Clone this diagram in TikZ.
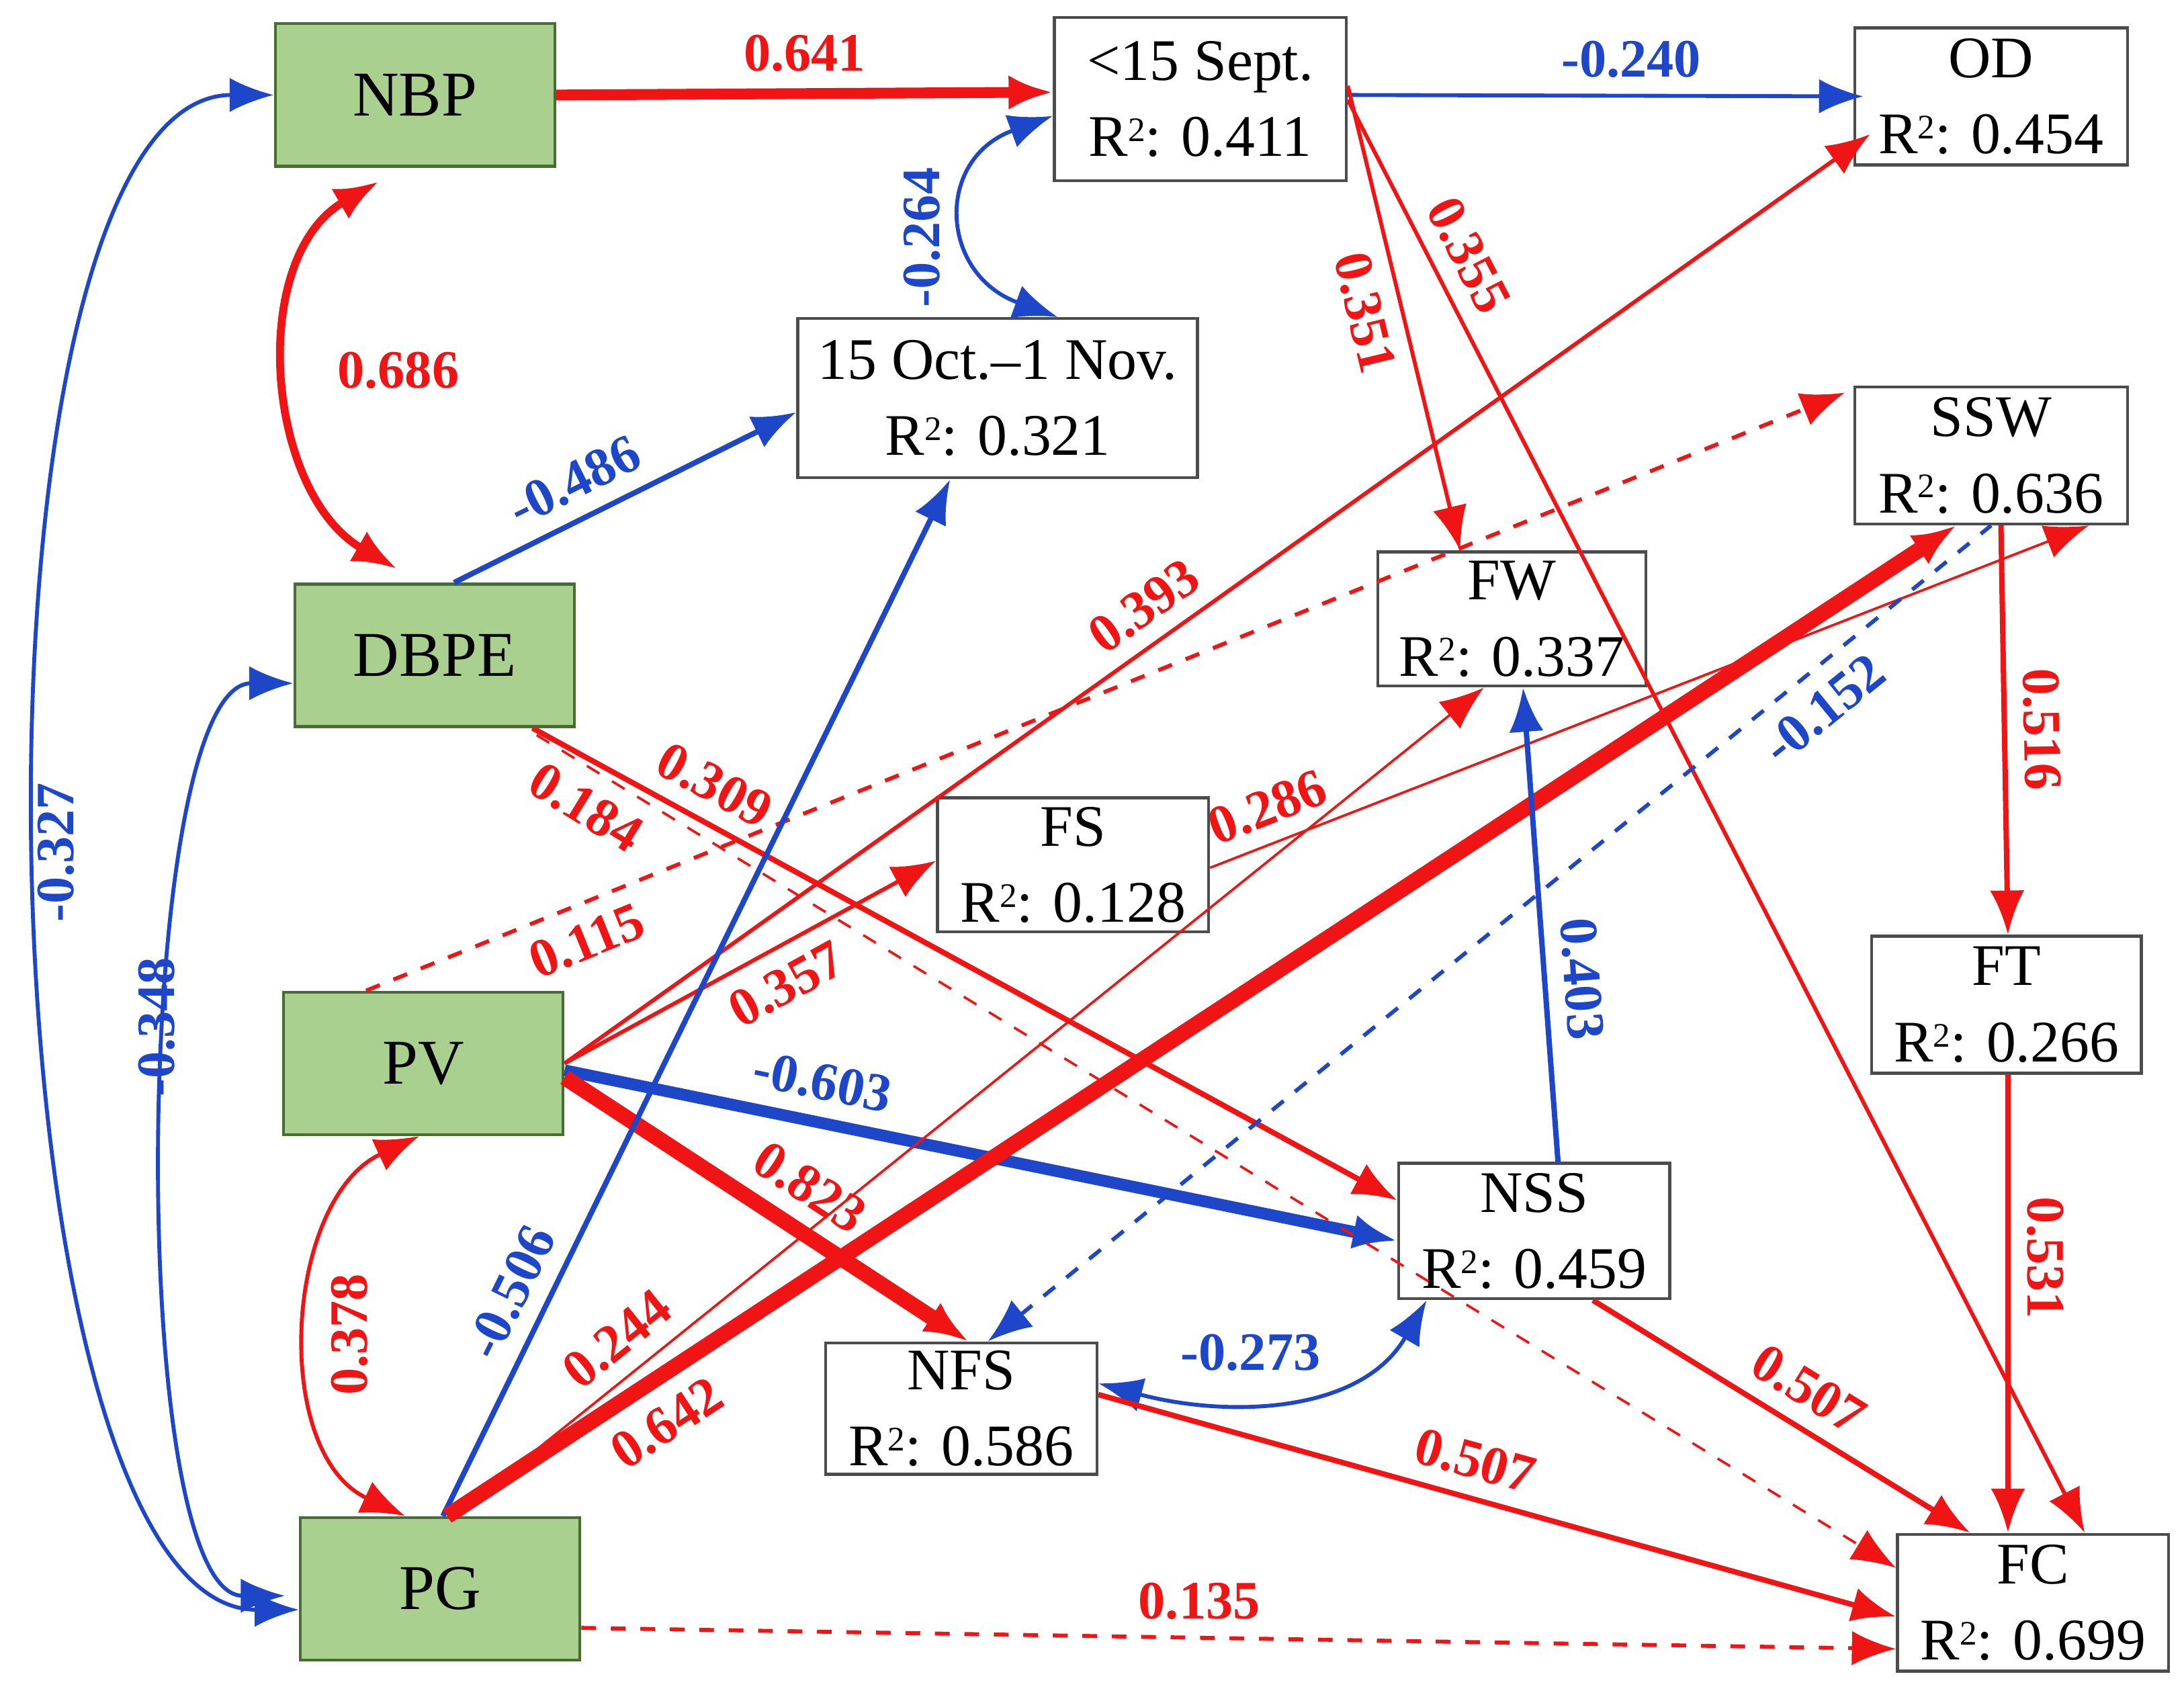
\documentclass[tikz,border=0pt]{standalone}
\usepackage{fontspec}
\setmainfont{Liberation Serif}
\usetikzlibrary{arrows.meta}
\definecolor{pred}{RGB}{240,20,20}
\definecolor{pblue}{RGB}{30,70,200}
\definecolor{pgreen}{RGB}{169,208,142}
\definecolor{pdgreen}{RGB}{70,110,50}
\newcommand{\Rsq}{R\raisebox{0.55ex}{\fontsize{7}{8}\selectfont 2}}
\begin{document}
\begin{tikzpicture}[>={Latex[length=9pt,width=7pt]},
  obs/.style={draw=black!70, fill=white, line width=0.6pt, align=center, font=\fontsize{12}{15.5}\selectfont, inner sep=1pt},
  lat/.style={draw=pdgreen, fill=pgreen, line width=0.6pt, font=\fontsize{13}{16}\selectfont},
  posarr/.style={draw=pred, line width=0.8pt, ->},
  neg/.style={draw=pblue, line width=0.8pt, ->},
  lr/.style={text=pred, font=\bfseries\fontsize{11}{13}\selectfont},
  lb/.style={text=pblue, font=\bfseries\fontsize{11}{13}\selectfont}]
\useasboundingbox (0,0) rectangle (15.63,12.13);
% Nodos
\node [lat, minimum width=2.0cm, minimum height=1.02cm] (NBP)  at (2.97,11.45) {NBP};
\node [lat, minimum width=2.0cm, minimum height=1.02cm] (DBPE) at (3.11,7.44) {DBPE};
\node [lat, minimum width=2.0cm, minimum height=1.02cm] (PV)   at (3.03,4.52) {PV};
\node [lat, minimum width=2.0cm, minimum height=1.02cm] (PG)   at (3.15,0.76) {PG};
\node [obs, minimum width=2.09cm, minimum height=1.17cm] (Sept) at (8.59,11.42) {<15 Sept.\\\Rsq: 0.411};
\node [obs, minimum width=2.86cm, minimum height=1.14cm] (Oct)  at (7.14,9.28) {15 Oct.–1 Nov.\\\Rsq: 0.321};
\node [obs, minimum width=1.95cm, minimum height=0.98cm] (OD)   at (14.25,11.44) {OD\\\Rsq: 0.454};
\node [obs, minimum width=1.95cm, minimum height=0.98cm] (SSW)  at (14.25,8.87) {SSW\\\Rsq: 0.636};
\node [obs, minimum width=1.92cm, minimum height=0.96cm] (FW)   at (10.82,7.70) {FW\\\Rsq: 0.337};
\node [obs, minimum width=1.94cm, minimum height=0.96cm] (FS)   at (7.68,5.94) {FS\\\Rsq: 0.128};
\node [obs, minimum width=1.93cm, minimum height=0.98cm] (FT)   at (14.36,4.94) {FT\\\Rsq: 0.266};
\node [obs, minimum width=1.94cm, minimum height=0.97cm] (NSS)  at (10.98,3.32) {NSS\\\Rsq: 0.459};
\node [obs, minimum width=1.94cm, minimum height=0.94cm] (NFS)  at (6.88,2.05) {NFS\\\Rsq: 0.586};
\node [obs, minimum width=1.94cm, minimum height=0.98cm] (FC)   at (14.55,0.66) {FC\\\Rsq: 0.699};
% Covarianzas
\draw [pred, line width=1.6pt, <->] ([xshift=0.75cm, yshift=-0.1cm]NBP.south west) to [out=210, in=150] ([xshift=0.74cm, yshift=0.1cm]DBPE.north west);
\node [lr] (l686) at (2.85,9.48) {0.686};
\draw [pblue, line width=0.8pt, <->] (NBP.west) to [out=180, in=180, looseness=0.55] ([yshift=-0.15cm]PG.west);
\node [lb, rotate=90] (l327) at (0.40,6.03) {-0.327};
\draw [pblue, line width=0.8pt, <->] ([yshift=-0.2cm]DBPE.west) to [out=180, in=180, looseness=0.45] ([xshift=-0.1cm, yshift=-0.05cm]PG.west);
\node [lb, rotate=90] (l348) at (1.12,4.78) {-0.348};
\draw [pred, line width=0.8pt, <->] ([xshift=-0.03cm]PV.south) to [out=205, in=155] ([xshift=-0.25cm]PG.north);
\node [lr, rotate=90] (l378) at (2.50,2.58) {0.378};
\draw [pblue, line width=0.8pt, <->] ([yshift=-0.12cm]Sept.west) to [out=200, in=160, looseness=1.6] ([xshift=0.43cm]Oct.north);
\node [lb, rotate=90] (l264) at (6.60,10.43) {-0.264};
\draw [pblue, line width=0.8pt, <->] ([yshift=0.18cm]NFS.east) to [out=-15, in=-120] ([xshift=-0.77cm]NSS.south);
\node [lb] (l273) at (8.95,2.45) {-0.273};
% Ejes
\draw [pred, line width=2.2pt, ->] (NBP.east) -- node [lr, above] {0.641} ([yshift=0.05cm]Sept.west);
\draw [neg] ([yshift=0.03cm]Sept.east) -- node [lb, above, pos=0.55] {-0.240} ([xshift=0.07cm]OD.west);
\draw [neg, line width=1.1pt] ([xshift=0.14cm]DBPE.north) -- node [lb, above, sloped, pos=0.4] {-0.486} ([yshift=-0.1cm]Oct.west);
\draw [posarr] ([yshift=-0.5cm]Sept.north east) -- node [lr, below, sloped, pos=0.47] {0.351} ([xshift=-0.37cm]FW.north);
\draw [posarr] ([yshift=-0.6cm]Sept.north east) -- node [lr, above, sloped, pos=0.12] {0.355} ([xshift=0.37cm]FC.north);
\draw [posarr] (PV.east) -- node [lr, above, sloped, pos=0.46] {0.393} ([xshift=0.12cm, yshift=0.23cm]OD.south west);
\draw [posarr, dashed] ([xshift=-0.41cm]PV.north) -- node [lr, below, sloped, pos=0.14] {0.115} ([xshift=-0.06cm, yshift=-0.05cm]SSW.north west);
\draw [posarr] (PV.east) -- node [lr, below, sloped, pos=0.55] {0.357} ([yshift=0.03cm]FS.west);
\draw [neg, line width=2.4pt] ([yshift=-0.05cm]PV.east) -- node [lb, above, sloped, pos=0.3] {-0.603} ([yshift=-0.07cm]NSS.west);
\draw [pred, line width=3.2pt, ->] ([yshift=-0.1cm]PV.east) -- node [lr, above, sloped, pos=0.55] {0.823} ([xshift=0.05cm]NFS.north);
\draw [posarr, line width=1.1pt] ([xshift=-0.31cm]DBPE.south east) -- node [lr, above, sloped, pos=0.19] {0.309} ([yshift=0.22cm]NSS.west);
\draw [posarr, line width=0.5pt, dashed] ([xshift=-0.28cm, yshift=-0.05cm]DBPE.south east) -- node [lr, below, sloped, pos=0.05] {0.184} ([yshift=0.25cm]FC.west);
\draw [posarr, line width=0.5pt] ([yshift=-0.02cm]FS.east) -- node [lr, above, sloped, pos=0.08] {0.286} ([xshift=0.7cm]SSW.south);
\draw [neg, line width=1.1pt] ([xshift=0.02cm]PG.north) -- node [lb, above, sloped, pos=0.2] {-0.506} ([xshift=-0.34cm]Oct.south);
\draw [posarr, line width=0.5pt] ([xshift=0.1cm]PG.north) -- node [lr, above, sloped, pos=0.18] {0.244} ([xshift=-0.2cm]FW.south);
\draw [pred, line width=3.2pt, ->] ([xshift=0.05cm]PG.north) -- node [lr, below, sloped, pos=0.13] {0.642} ([xshift=-0.25cm]SSW.south);
\draw [posarr, dashed] ([yshift=-0.28cm]PG.east) -- node [lr, above, pos=0.47] {0.135} ([yshift=-0.33cm]FC.west);
\draw [pblue, line width=0.8pt, dashed, <-] ([xshift=0.19cm]NFS.north) -- node [lb, below, sloped, pos=0.81] {-0.152} ([xshift=0.0cm]SSW.south);
\draw [posarr, line width=1.1pt] ([xshift=0.07cm]SSW.south) -- node [lr, above, sloped, pos=0.5] {0.516} ([xshift=0.01cm]FT.north);
\draw [posarr, line width=1.1pt] ([xshift=0.01cm]FT.south) -- node [lr, above, sloped, pos=0.4] {0.531} ([xshift=-0.18cm]FC.north);
\draw [pblue, line width=1.1pt, <-] ([xshift=0.08cm]FW.south) -- node [lb, above, sloped, pos=0.62] {0.403} ([xshift=0.17cm]NSS.north);
\draw [posarr, line width=1.1pt] ([xshift=0.42cm]NSS.south) -- node [lr, above, sloped, pos=0.52] {0.507} ([xshift=-0.45cm]FC.north);
\draw [posarr, line width=1.1pt] ([yshift=0.1cm]NFS.east) -- node [lr, above, sloped, pos=0.46] {0.507} ([yshift=-0.1cm]FC.west);
\end{tikzpicture}
\end{document}
